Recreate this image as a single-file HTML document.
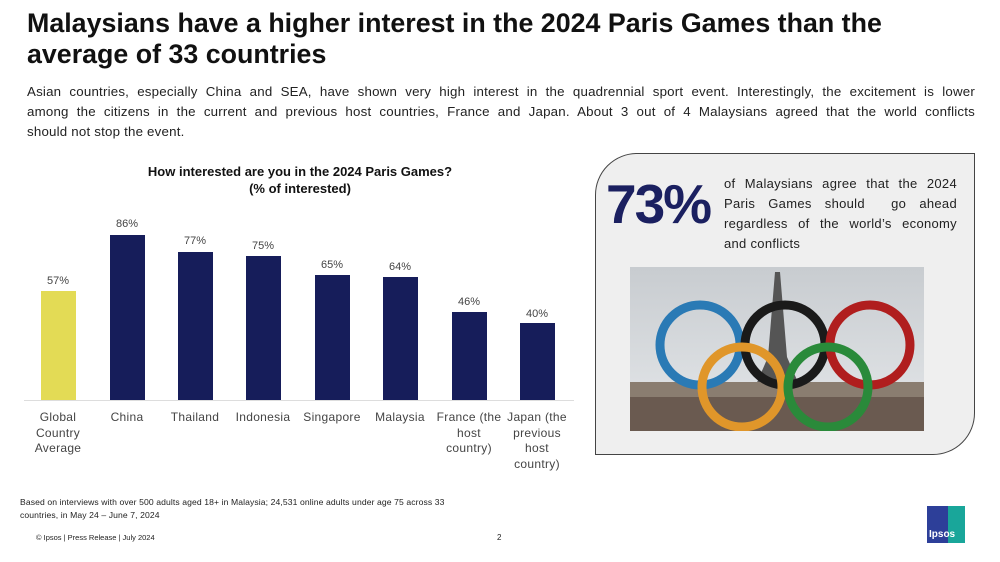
<!DOCTYPE html>
<html><head><meta charset="utf-8"><style>
body{margin:0;width:1000px;height:562px;background:#fff;font-family:"Liberation Sans",sans-serif;position:relative;overflow:hidden}
.a{position:absolute}
h1{position:absolute;left:27px;top:8px;margin:0;font-size:26.8px;line-height:31px;font-weight:bold;color:#111;letter-spacing:0px;white-space:nowrap}
.intro{left:27px;top:82px;width:948px;font-size:13.3px;line-height:20px;color:#222;letter-spacing:0.2px}
.j{text-align:justify;text-align-last:justify;white-space:nowrap}
.bar{position:absolute;width:35px;background:#161d5a;bottom:162px}
.val{position:absolute;width:60px;text-align:center;font-size:11px;color:#444}
.lab{position:absolute;width:80px;text-align:center;font-size:12px;line-height:15.5px;color:#444;top:410px;white-space:nowrap;letter-spacing:0.3px}
</style></head><body>
<h1>Malaysians have a higher interest in the 2024 Paris Games than the<br>average of 33 countries</h1>
<div class="a intro"><div class="j">Asian countries, especially China and SEA, have shown very high interest in the quadrennial sport event. Interestingly, the excitement is lower</div><div class="j">among the citizens in the current and previous host countries, France and Japan. About 3 out of 4 Malaysians agreed that the world conflicts</div><div>should not stop the event.</div></div>
<div class="a" style="left:90px;top:163px;width:420px;text-align:center;font-size:13px;font-weight:bold;line-height:17px;color:#111">How interested are you in the 2024 Paris Games?<br>(% of interested)</div>
<div class="a" style="left:24px;top:400px;width:550px;height:1px;background:#ddd"></div>

<div class="bar" style="left:41px;height:109px;background:#e3db55"></div>
<div class="bar" style="left:110px;height:165px"></div>
<div class="bar" style="left:178px;height:148px"></div>
<div class="bar" style="left:246px;height:144px"></div>
<div class="bar" style="left:315px;height:125px"></div>
<div class="bar" style="left:383px;height:123px"></div>
<div class="bar" style="left:452px;height:88px"></div>
<div class="bar" style="left:520px;height:77px"></div>

<div class="val" style="left:28px;top:275px">57%</div>
<div class="val" style="left:97px;top:218px">86%</div>
<div class="val" style="left:165px;top:235px">77%</div>
<div class="val" style="left:233px;top:240px">75%</div>
<div class="val" style="left:302px;top:259px">65%</div>
<div class="val" style="left:370px;top:261px">64%</div>
<div class="val" style="left:439px;top:296px">46%</div>
<div class="val" style="left:507px;top:308px">40%</div>

<div class="lab" style="left:18px">Global<br>Country<br>Average</div>
<div class="lab" style="left:87px">China</div>
<div class="lab" style="left:155px">Thailand</div>
<div class="lab" style="left:223px">Indonesia</div>
<div class="lab" style="left:292px">Singapore</div>
<div class="lab" style="left:360px">Malaysia</div>
<div class="lab" style="left:429px">France (the<br>host<br>country)</div>
<div class="lab" style="left:497px">Japan (the<br>previous<br>host<br>country)</div>

<div class="a" style="left:595px;top:153px;width:378px;height:300px;background:#efefef;border:1.5px solid #444;border-radius:42px 0 42px 0"></div>
<div class="a" style="left:606px;top:174px;font-size:55px;font-weight:900;color:#1b2060;letter-spacing:-2px;line-height:60px">73%</div>
<div class="a" style="left:724px;top:174px;width:233px;font-size:13px;line-height:20px;color:#222;letter-spacing:0.3px"><div class="j">of Malaysians agree that the 2024</div><div class="j">Paris Games should &nbsp;go ahead</div><div class="j">regardless of the world’s economy</div><div>and conflicts</div></div>
<svg class="a" style="left:630px;top:267px" width="294" height="164">
<defs><linearGradient id="sk" x1="0" y1="0" x2="0" y2="1"><stop offset="0" stop-color="#c8ccd0"/><stop offset="0.7" stop-color="#dcdfe2"/><stop offset="1" stop-color="#b8b8b0"/></linearGradient></defs>
<rect width="294" height="164" fill="url(#sk)"/>
<polygon points="145,5 150,5 157,90 170,120 125,120 138,90" fill="#555"/>
<rect x="0" y="115" width="294" height="49" fill="#8a7d70"/>
<rect x="0" y="130" width="294" height="34" fill="#6a5a50"/>
<g fill="none" stroke-width="9">
<circle cx="70" cy="78" r="40" stroke="#2a7ab5"/>
<circle cx="155" cy="78" r="40" stroke="#1a1a1a"/>
<circle cx="240" cy="78" r="40" stroke="#b01e1e"/>
<circle cx="112" cy="120" r="40" stroke="#e0962a"/>
<circle cx="198" cy="120" r="40" stroke="#2a8a3a"/>
</g></svg>

<div class="a" style="left:20px;top:496px;font-size:8.6px;line-height:12.5px;color:#222;white-space:nowrap;letter-spacing:0.1px">Based on interviews with over 500 adults aged 18+ in Malaysia; 24,531 online adults under age 75 across 33<br>countries, in May 24 – June 7, 2024</div>
<div class="a" style="left:36px;top:533px;font-size:7.5px;color:#222">© Ipsos | Press Release | July 2024</div>
<div class="a" style="left:497px;top:533px;font-size:8px;color:#222">2</div>
<div class="a" style="left:927px;top:506px;width:38px;height:37px;background:linear-gradient(90deg,#2d3f99 55%,#19a69a 55%)"></div>
<div class="a" style="left:929px;top:529px;font-size:10px;font-weight:bold;color:#fff">Ipsos</div>
</body></html>
